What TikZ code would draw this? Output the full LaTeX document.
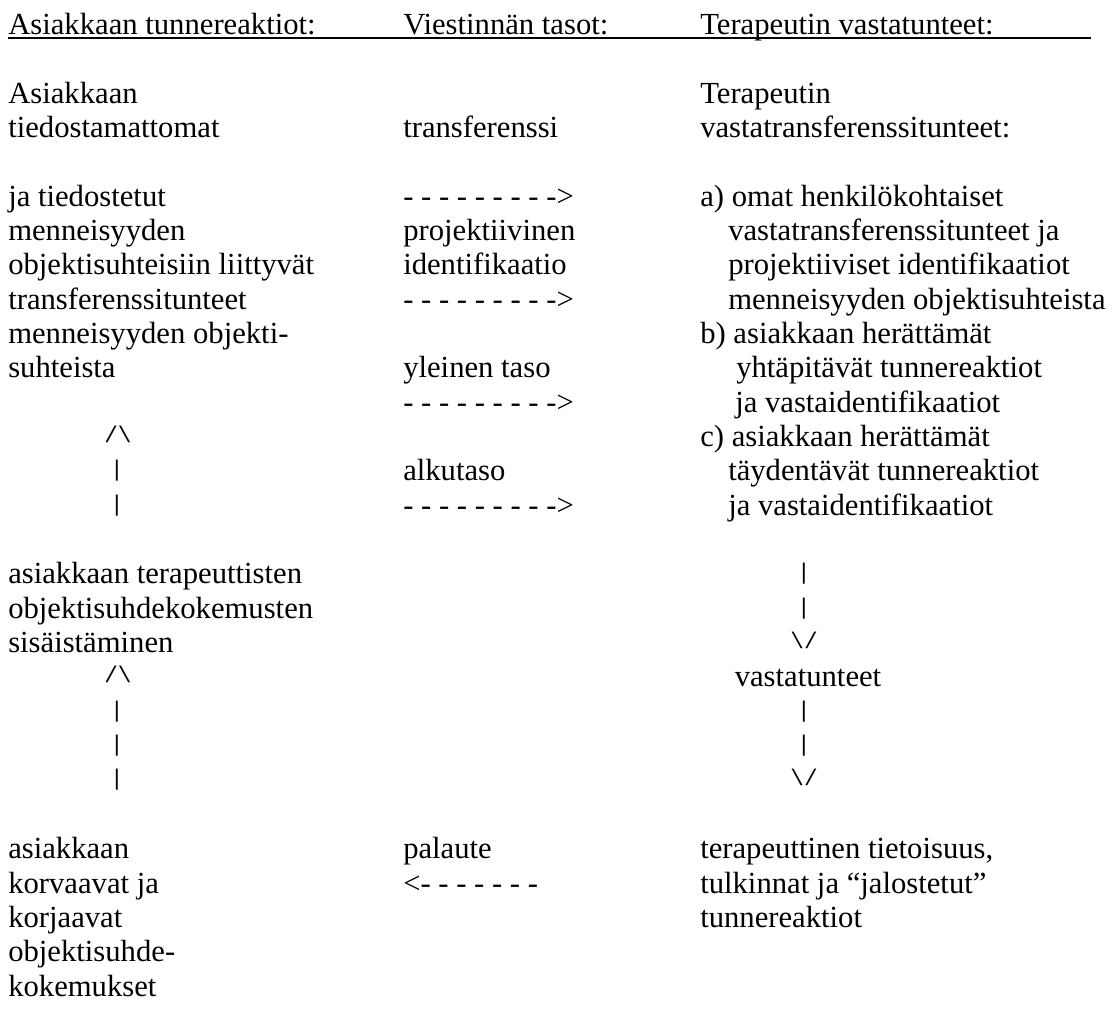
\documentclass[tikz,border=0pt]{standalone}
\usepackage{fontspec}
\setmainfont{Liberation Serif}
\newfontfamily\symfont{Liberation Mono}

\begin{document}
\begin{tikzpicture}[
    x=0.75pt, y=-25.76pt,
    txt/.style={anchor=base west, inner sep=0pt, font=\fontsize{23}{27}\selectfont},
    sym/.style={anchor=base, inner sep=0pt, yshift=3pt, font=\symfont\fontsize{17}{19}\selectfont}
]
    \useasboundingbox (0,-3.0) rectangle (1114,26.35);

    % Headings
    \node[txt] (hasiakas) at (8,-2) {Asiakkaan tunnereaktiot:};
    \node[txt] (htasot) at (403,-2) {Viestinnän tasot:};
    \node[txt] (hterapeutti) at (700,-2) {Terapeutin vastatunteet:};
    \coordinate (ulend) at (1091,-2);
    \draw[line width=1.4pt] ([yshift=-3pt]hasiakas.base west) -- ([yshift=-3pt]ulend);

    % Client column
    \node[txt] (a0) at (8,0) {Asiakkaan};
    \node[txt] (a1) at (8,1) {tiedostamattomat};
    \node[txt] (a3) at (8,3) {ja tiedostetut};
    \node[txt] (a4) at (8,4) {menneisyyden};
    \node[txt] (a5) at (8,5) {objektisuhteisiin liittyvät};
    \node[txt] (a6) at (8,6) {transferenssitunteet};
    \node[txt] (a7) at (8,7) {menneisyyden objekti-};
    \node[txt] (a8) at (8,8) {suhteista};
    \node[sym] (up1) at (118,10) {/\textbackslash};
    \node[sym] (bar11) at (117,11) {|};
    \node[sym] (bar12) at (117,12) {|};
    \node[txt] (a14) at (8,14) {asiakkaan terapeuttisten};
    \node[txt] (a15) at (8,15) {objektisuhdekokemusten};
    \node[txt] (a16) at (8,16) {sisäistäminen};
    \node[sym] (up2) at (118,17) {/\textbackslash};
    \node[sym] (bar18) at (117,18) {|};
    \node[sym] (bar19) at (117,19) {|};
    \node[sym] (bar20) at (117,20) {|};
    \node[txt] (a22) at (8,22) {asiakkaan};
    \node[txt] (a23) at (8,23) {korvaavat ja};
    \node[txt] (a24) at (8,24) {korjaavat};
    \node[txt] (a25) at (8,25) {objektisuhde-};
    \node[txt] (a26) at (8,26) {kokemukset};

    % Levels of communication
    \node[txt] (v1) at (403,1) {transferenssi};
    \node[txt] (v3) at (403,3) {- - - - - - - - ->};
    \node[txt] (v4) at (403,4) {projektiivinen};
    \node[txt] (v5) at (403,5) {identifikaatio};
    \node[txt] (v6) at (403,6) {- - - - - - - - ->};
    \node[txt] (v8) at (403,8) {yleinen taso};
    \node[txt] (v9) at (403,9) {- - - - - - - - ->};
    \node[txt] (v11) at (403,11) {alkutaso};
    \node[txt] (v12) at (403,12) {- - - - - - - - ->};
    \node[txt] (v22) at (403,22) {palaute};
    \node[txt] (v23) at (403,23) {<- - - - - - -};

    % Therapist column
    \node[txt] (t0) at (700,0) {Terapeutin};
    \node[txt] (t1) at (700,1) {vastatransferenssitunteet:};
    \node[txt] (t3) at (700,3) {a) omat henkilökohtaiset};
    \node[txt] (t4) at (728,4) {vastatransferenssitunteet ja};
    \node[txt] (t5) at (728,5) {projektiiviset identifikaatiot};
    \node[txt] (t6) at (728,6) {menneisyyden objektisuhteista};
    \node[txt] (t7) at (700,7) {b) asiakkaan herättämät};
    \node[txt] (t8) at (736,8) {yhtäpitävät tunnereaktiot};
    \node[txt] (t9) at (735,9) {ja vastaidentifikaatiot};
    \node[txt] (t10) at (700,10) {c) asiakkaan herättämät};
    \node[txt] (t11) at (728,11) {täydentävät tunnereaktiot};
    \node[txt] (t12) at (728,12) {ja vastaidentifikaatiot};
    \node[sym] (bar14) at (804,14) {|};
    \node[sym] (bar15) at (804,15) {|};
    \node[sym] (down1) at (804,16) {\textbackslash/};
    \node[txt, anchor=base] (t17) at (808,17) {vastatunteet};
    \node[sym] (bar18r) at (804,18) {|};
    \node[sym] (bar19r) at (804,19) {|};
    \node[sym] (down2) at (804,20) {\textbackslash/};
    \node[txt] (t22) at (700,22) {terapeuttinen tietoisuus,};
    \node[txt] (t23) at (700,23) {tulkinnat ja “jalostetut”};
    \node[txt] (t24) at (700,24) {tunnereaktiot};
\end{tikzpicture}
\end{document}
